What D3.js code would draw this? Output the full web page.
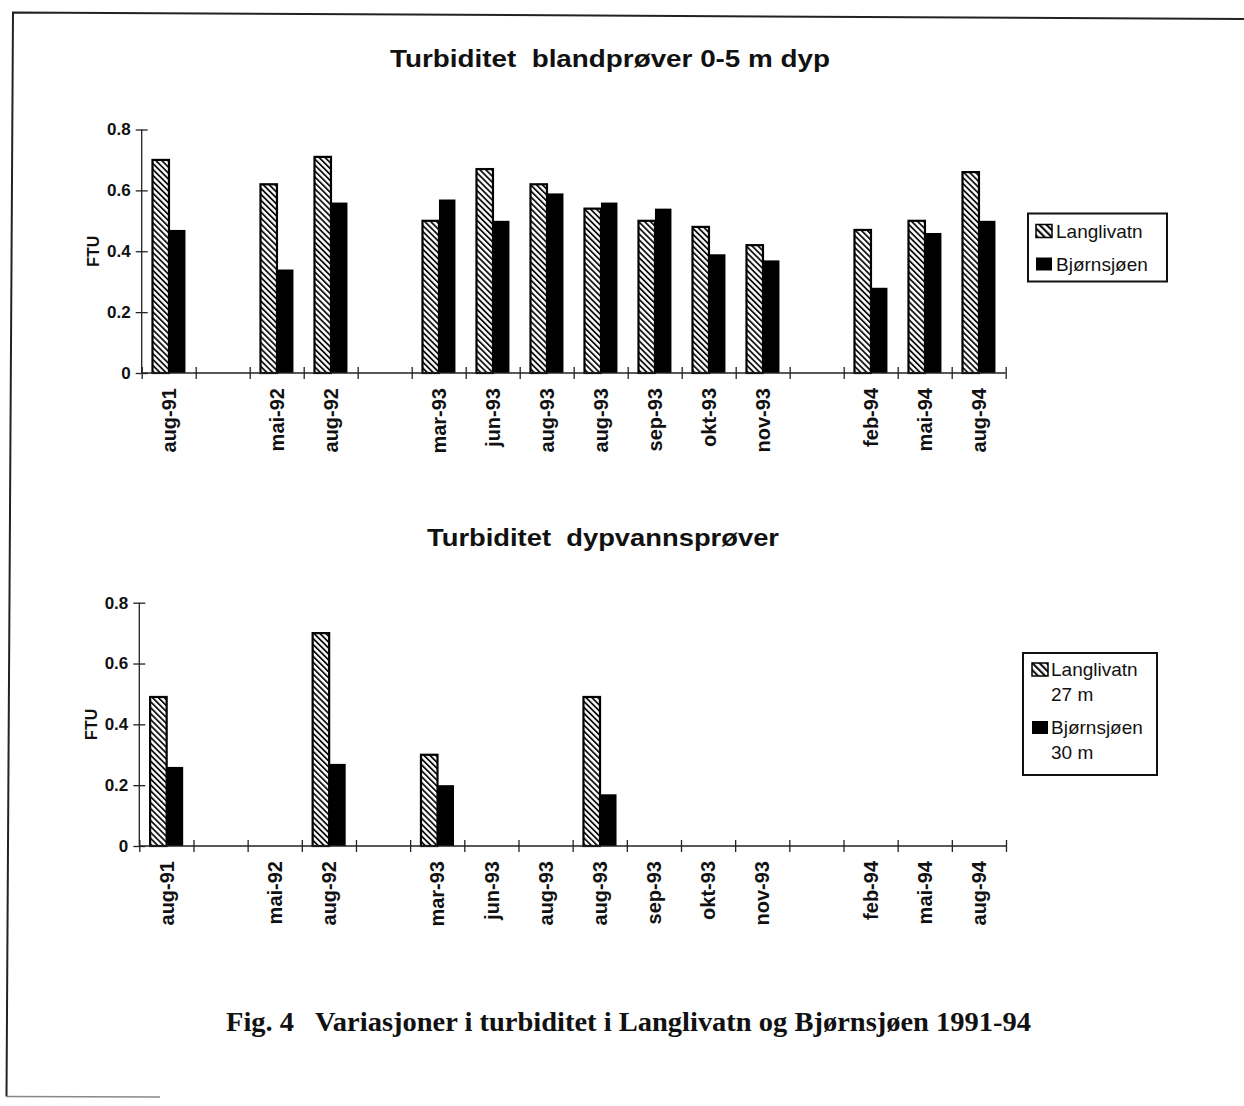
<!DOCTYPE html>
<html><head><meta charset="utf-8">
<script src="https://cdn.jsdelivr.net/npm/d3@7"></script>
<style>body{margin:0;background:#fff}svg{display:block}</style>
</head><body>
<svg id="c" width="1244" height="1106"></svg>
<script>
// ---- data ----
const categories = ["aug-91","","mai-92","aug-92","","mar-93","jun-93","aug-93","aug-93","sep-93","okt-93","nov-93","","feb-94","mai-94","aug-94"];
const langTop  = [0.70,null,0.62,0.71,null,0.50,0.67,0.62,0.54,0.50,0.48,0.42,null,0.47,0.50,0.66];
const bjornTop = [0.47,null,0.34,0.56,null,0.57,0.50,0.59,0.56,0.54,0.39,0.37,null,0.28,0.46,0.50];
const langDeep  = [0.49,null,null,0.70,null,0.30,null,null,0.49,null,null,null,null,null,null,null];
const bjornDeep = [0.26,null,null,0.27,null,0.20,null,null,0.17,null,null,null,null,null,null,null];
const yTicks = [0,0.2,0.4,0.6,0.8];
const yTickLabels = ["0","0.2","0.4","0.6","0.8"];
const titleTop = "Turbiditet  blandprøver 0-5 m dyp";
const titleDeep = "Turbiditet  dypvannsprøver";
const legendTop = [["Langlivatn"],["Bjørnsjøen"]];
const legendDeep = [["Langlivatn","27 m"],["Bjørnsjøen","30 m"]];
const caption = "Fig. 4   Variasjoner i turbiditet i Langlivatn og Bjørnsjøen 1991-94";

const svg = d3.select("#c");
const SANS = "'Liberation Sans', Arial, Helvetica, sans-serif";
const SERIF = "'Liberation Serif', 'Times New Roman', serif";

// patterns
const defs = svg.append("defs");
function hatch(id, period, w){
  const p = defs.append("pattern").attr("id",id).attr("patternUnits","userSpaceOnUse")
    .attr("width",period).attr("height",period).attr("patternTransform","rotate(-45)");
  p.append("rect").attr("width",period).attr("height",period).attr("fill","#fff");
  p.append("rect").attr("x",0).attr("y",0).attr("width",w).attr("height",period).attr("fill","#111");
}
hatch("hatch",4.2,1.8);
hatch("hatchL",5,2.2);

// frame (scanned page border)
svg.append("path").attr("d","M1244,19 L13,12.5 L6.5,1096.5").attr("fill","none").attr("stroke","#222").attr("stroke-width",2);
svg.append("path").attr("d","M6.5,1096.5 L160,1097").attr("fill","none").attr("stroke","#888").attr("stroke-width",1.5);

function fitText(sel, target){
  if(target) sel.attr("textLength",target).attr("lengthAdjust","spacingAndGlyphs");
}

function panel(cfg){
  const g = svg.append("g");
  const x = d3.scaleBand().domain(d3.range(categories.length)).range([cfg.x0,cfg.x1]);
  const xb = d3.scaleLinear().domain([0,categories.length]).range([cfg.x0,cfg.x1]);
  const y = d3.scaleLinear().domain([0,0.8]).range([cfg.y0,cfg.y8]);
  const bw = x.bandwidth();
  const off = bw*0.2, barW = bw*0.305;

  // bars
  const lang = cfg.lang.map((v,i)=>({i,v})).filter(d=>d.v!=null);
  const bj = cfg.bjorn.map((v,i)=>({i,v})).filter(d=>d.v!=null);
  g.selectAll("rect.bj").data(bj).join("rect").attr("class","bj")
    .attr("x",d=>x(d.i)+off+barW).attr("width",barW)
    .attr("y",d=>y(d.v)).attr("height",d=>y(0)-y(d.v)).attr("fill","#000");
  g.selectAll("rect.la").data(lang).join("rect").attr("class","la")
    .attr("x",d=>x(d.i)+off).attr("width",barW)
    .attr("y",d=>y(d.v)).attr("height",d=>y(0)-y(d.v))
    .attr("fill","url(#hatch)").attr("stroke","#000").attr("stroke-width",2.2);

  // y axis (crossing ticks)
  const ya = g.append("g").attr("transform",`translate(${cfg.x0},0)`)
    .call(d3.axisLeft(y).tickValues(yTicks).tickFormat((d,i)=>yTickLabels[i]).tickSize(6).tickPadding(5));
  g.append("g").attr("transform",`translate(${cfg.x0},0)`)
    .call(d3.axisRight(y).tickValues(yTicks).tickFormat("").tickSize(6)).select(".domain").remove();
  ya.select(".domain").attr("d",`M0,${y(0.8)}V${y(0)}`);
  ya.selectAll("text").attr("font-family",SANS).attr("font-weight","bold").attr("font-size",17).attr("fill","#111");

  // x axis (boundary ticks crossing)
  const xa = g.append("g").attr("transform",`translate(0,${y(0)})`)
    .call(d3.axisBottom(xb).tickValues(d3.range(categories.length+1)).tickFormat("").tickSize(6));
  g.append("g").attr("transform",`translate(0,${y(0)})`)
    .call(d3.axisTop(xb).tickValues(d3.range(categories.length+1)).tickFormat("").tickSize(6)).select(".domain").remove();
  xa.select(".domain").attr("d",`M${cfg.x0},0H${cfg.x1}`);

  const xl = g.append("g").attr("transform",`translate(0,${y(0)})`)
    .call(d3.axisBottom(x).tickFormat(i=>categories[i]).tickSize(0));
  xl.select(".domain").remove();
  xl.selectAll("text").attr("transform","rotate(-90)").attr("x",-15).attr("y",0).attr("dy","0.36em")
    .style("text-anchor","end").attr("font-family",SANS).attr("font-weight","bold").attr("font-size",20).attr("fill","#111");

  g.selectAll(".tick line, .domain").attr("stroke","#222").attr("stroke-width",1.3);

  // FTU
  g.append("text").attr("transform",`translate(${cfg.ftuX},${(y(0)+y(0.8))/2}) rotate(-90)`)
    .attr("text-anchor","middle").attr("dy","0.36em").attr("font-family",SANS).attr("font-weight","bold")
    .attr("font-size",16).attr("fill","#111").text("FTU");

  // title
  const t = g.append("text").attr("x",cfg.titleX).attr("y",cfg.titleY).attr("text-anchor","middle")
    .attr("font-family",SANS).attr("font-weight","bold").attr("font-size",23).attr("fill","#111")
    .style("white-space","pre").attr("xml:space","preserve").text(cfg.title);
  fitText(t, cfg.titleW);

  // legend
  const L = cfg.legend;
  const lg = g.append("g");
  lg.append("rect").attr("x",L.x).attr("y",L.y).attr("width",L.w).attr("height",L.h)
    .attr("fill","#fff").attr("stroke","#111").attr("stroke-width",2);
  cfg.legendItems.forEach((lines,k)=>{
    const top = L.y + L.pad + k*L.rowH;
    lg.append("rect").attr("x",L.x+L.sx).attr("y",top).attr("width",16).attr("height",13)
      .attr("fill", k===0 ? "url(#hatchL)" : "#000").attr("stroke","#000").attr("stroke-width",k===0?1.5:0);
    lines.forEach((s,j)=>{
      lg.append("text").attr("x",L.x+L.tx).attr("y",top+13+j*L.lineH).attr("font-family",SANS)
        .attr("font-size",19).attr("fill","#111").text(s);
    });
  });
}

panel({x0:141.7,x1:1005.7,y0:373,y8:129.5,lang:langTop,bjorn:bjornTop,ftuX:93,
  title:titleTop,titleX:610,titleY:67,titleW:440,
  legend:{x:1028,y:213.5,w:139,h:68,pad:11,rowH:33,sx:8,tx:28,lineH:25},legendItems:legendTop});
panel({x0:139.3,x1:1006,y0:846,y8:602.7,lang:langDeep,bjorn:bjornDeep,ftuX:91,
  title:titleDeep,titleX:603,titleY:546,titleW:352,
  legend:{x:1023,y:653,w:134,h:122,pad:10,rowH:58,sx:9,tx:28,lineH:25},legendItems:legendDeep});

// caption
const cap = svg.append("text").attr("x",226).attr("y",1031).attr("font-family",SERIF).attr("font-weight","bold")
  .attr("font-size",28).attr("fill","#111").attr("xml:space","preserve").style("white-space","pre").text(caption);
cap.attr("textLength",805).attr("lengthAdjust","spacingAndGlyphs");
</script>
</body></html>
